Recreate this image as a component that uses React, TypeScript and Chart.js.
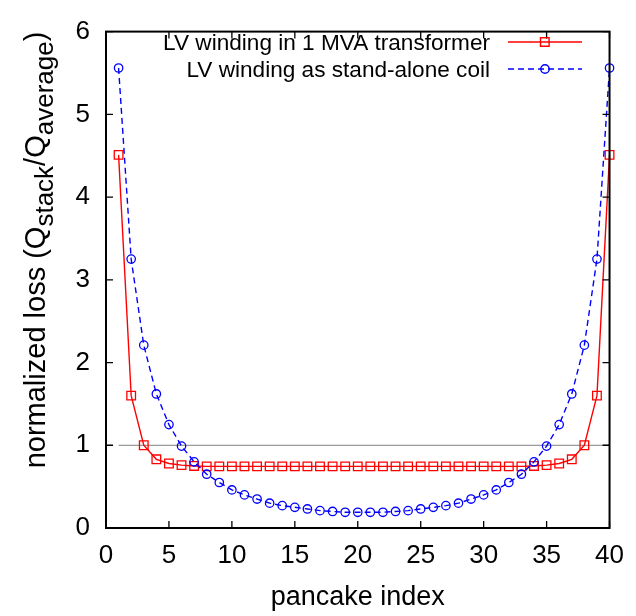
import { useEffect, useRef } from "react";
import { Chart, registerables } from "chart.js";

Chart.register(...registerables);

const pancakeIndex = [1, 2, 3, 4, 5, 6, 7, 8, 9, 10, 11, 12, 13, 14, 15, 16, 17, 18, 19, 20, 21, 22, 23, 24, 25, 26, 27, 28, 29, 30, 31, 32, 33, 34, 35, 36, 37, 38, 39, 40];
const transformerLoss = [4.51, 1.6, 1.0, 0.83, 0.78, 0.76, 0.75, 0.745, 0.745, 0.745, 0.745, 0.745, 0.745, 0.745, 0.745, 0.745, 0.745, 0.745, 0.745, 0.745, 0.745, 0.745, 0.745, 0.745, 0.745, 0.745, 0.745, 0.745, 0.745, 0.745, 0.745, 0.745, 0.745, 0.75, 0.76, 0.78, 0.83, 1.0, 1.6, 4.51];
const standaloneLoss = [5.56, 3.25, 2.21, 1.62, 1.25, 0.99, 0.8, 0.65, 0.55, 0.46, 0.4, 0.35, 0.3, 0.27, 0.25, 0.23, 0.21, 0.2, 0.19, 0.19, 0.19, 0.19, 0.2, 0.21, 0.23, 0.25, 0.27, 0.3, 0.35, 0.4, 0.46, 0.55, 0.65, 0.8, 0.99, 1.25, 1.62, 2.21, 3.25, 5.56];
const referenceX = [1, 40];
const referenceY = [1, 1];
const seriesLabels = ["LV winding in 1 MVA transformer", "LV winding as stand-alone coil"];
const xTitle = "pancake index";
const yTitleParts = [
  { text: "normalized loss (Q", sub: false },
  { text: "stack", sub: true },
  { text: "/Q", sub: false },
  { text: "average", sub: true },
  { text: ")", sub: false },
];

const FONT = "'Liberation Sans', Arial, Helvetica, sans-serif";

const framePlugin = {
  id: "gnuFrame",
  afterDatasetsDraw(chart: any) {
    const { ctx, chartArea } = chart;
    const { left, right, top, bottom } = chartArea;
    const xs = chart.scales.x;
    const ys = chart.scales.y;
    ctx.save();
    ctx.strokeStyle = "#000";
    ctx.lineWidth = 1.3;
    const tl = 7;
    ctx.beginPath();
    xs.ticks.forEach((t: any) => {
      const px = xs.getPixelForValue(t.value);
      ctx.moveTo(px, bottom);
      ctx.lineTo(px, bottom - tl);
      ctx.moveTo(px, top);
      ctx.lineTo(px, top + tl);
    });
    ys.ticks.forEach((t: any) => {
      const py = ys.getPixelForValue(t.value);
      ctx.moveTo(left, py);
      ctx.lineTo(left + tl, py);
      ctx.moveTo(right, py);
      ctx.lineTo(right - tl, py);
    });
    ctx.stroke();
    ctx.lineWidth = 2;
    ctx.strokeRect(left, top, right - left, bottom - top);
    ctx.restore();
  },
  afterDraw(chart: any) {
    const { ctx, chartArea } = chart;
    ctx.save();
    ctx.fillStyle = "#000";
    // x title
    ctx.font = `27px ${FONT}`;
    ctx.textAlign = "center";
    ctx.textBaseline = "alphabetic";
    ctx.fillText(xTitle, (chartArea.left + chartArea.right) / 2, 605);
    // y title with subscripts
    const mainSize = 29;
    const subSize = 26;
    let total = 0;
    const widths = yTitleParts.map((p) => {
      ctx.font = `${p.sub ? subSize : mainSize}px ${FONT}`;
      const w = ctx.measureText(p.text).width;
      total += w;
      return w;
    });
    ctx.translate(45, 250);
    ctx.rotate(-Math.PI / 2);
    ctx.textAlign = "left";
    let cx = -total / 2;
    yTitleParts.forEach((p, i) => {
      ctx.font = `${p.sub ? subSize : mainSize}px ${FONT}`;
      ctx.fillText(p.text, cx, p.sub ? 8 : 0);
      cx += widths[i];
    });
    ctx.restore();

    // legend
    ctx.save();
    ctx.font = `22.6px ${FONT}`;
    ctx.textAlign = "right";
    ctx.textBaseline = "alphabetic";
    const rows = [
      { y: 42, ds: chart.data.datasets[0] },
      { y: 69, ds: chart.data.datasets[1] },
    ];
    rows.forEach((r) => {
      ctx.fillStyle = "#000";
      ctx.fillText(r.ds.label, 490, r.y + 8);
      ctx.strokeStyle = r.ds.borderColor;
      ctx.lineWidth = r.ds.borderWidth;
      ctx.setLineDash(r.ds.borderDash || []);
      ctx.beginPath();
      ctx.moveTo(508, r.y);
      ctx.lineTo(582, r.y);
      ctx.stroke();
      ctx.setLineDash([]);
      ctx.beginPath();
      if (r.ds.pointStyle === "rect") {
        ctx.rect(540.5, r.y - 4.3, 8.6, 8.6);
      } else {
        ctx.arc(545, r.y, 4.2, 0, Math.PI * 2);
      }
      ctx.stroke();
    });
    ctx.restore();
  },
};

export default function App() {
  const ref = useRef<HTMLCanvasElement | null>(null);
  useEffect(() => {
    if (!ref.current) return;
    const chart = new Chart(ref.current, {
      type: "line",
      data: {
        datasets: [
          {
            label: seriesLabels[0],
            data: pancakeIndex.map((x, i) => ({ x, y: transformerLoss[i] })),
            borderColor: "#ff0000",
            borderWidth: 1.4,
            pointStyle: "rect",
            pointRadius: 6.1,
            pointBorderWidth: 1.3,
            pointBorderColor: "#ff0000",
            pointBackgroundColor: "rgba(0,0,0,0)",
            tension: 0,
            clip: false,
            order: 2,
          } as any,
          {
            label: seriesLabels[1],
            data: pancakeIndex.map((x, i) => ({ x, y: standaloneLoss[i] })),
            borderColor: "#0000ff",
            borderWidth: 1.4,
            borderDash: [6, 4],
            pointStyle: "circle",
            pointRadius: 4.2,
            pointBorderWidth: 1.3,
            pointBorderColor: "#0000ff",
            pointBackgroundColor: "rgba(0,0,0,0)",
            tension: 0,
            clip: false,
            order: 1,
          } as any,
          {
            label: "reference",
            data: referenceX.map((x, i) => ({ x, y: referenceY[i] })),
            borderColor: "#808080",
            borderWidth: 1,
            pointRadius: 0,
            order: 3,
          } as any,
        ],
      },
      options: {
        responsive: false,
        animation: false,
        layout: { padding: { top: 19, right: 22, left: 0, bottom: 0 } },
        plugins: { legend: { display: false }, tooltip: { enabled: false } },
        scales: {
          x: {
            type: "linear",
            min: 0,
            max: 40,
            grid: { display: false, drawTicks: false },
            border: { display: false },
            ticks: {
              stepSize: 5,
              color: "#000",
              padding: 12,
              font: { family: FONT, size: 26 },
              maxRotation: 0,
            },
            afterFit: (s: any) => {
              s.height = 88;
            },
          },
          y: {
            type: "linear",
            min: 0,
            max: 6,
            grid: { display: false, drawTicks: false },
            border: { display: false },
            ticks: {
              stepSize: 1,
              color: "#000",
              padding: 16,
              font: { family: FONT, size: 26 },
            },
            afterFit: (s: any) => {
              s.width = 106;
            },
          },
        },
      },
      plugins: [framePlugin],
    });
    return () => chart.destroy();
  }, []);
  return (
    <div style={{ position: "fixed", left: 0, top: 0, width: 636, height: 616, background: "#fff" }}>
      <canvas ref={ref} width={636} height={616} style={{ display: "block" }} />
    </div>
  );
}
